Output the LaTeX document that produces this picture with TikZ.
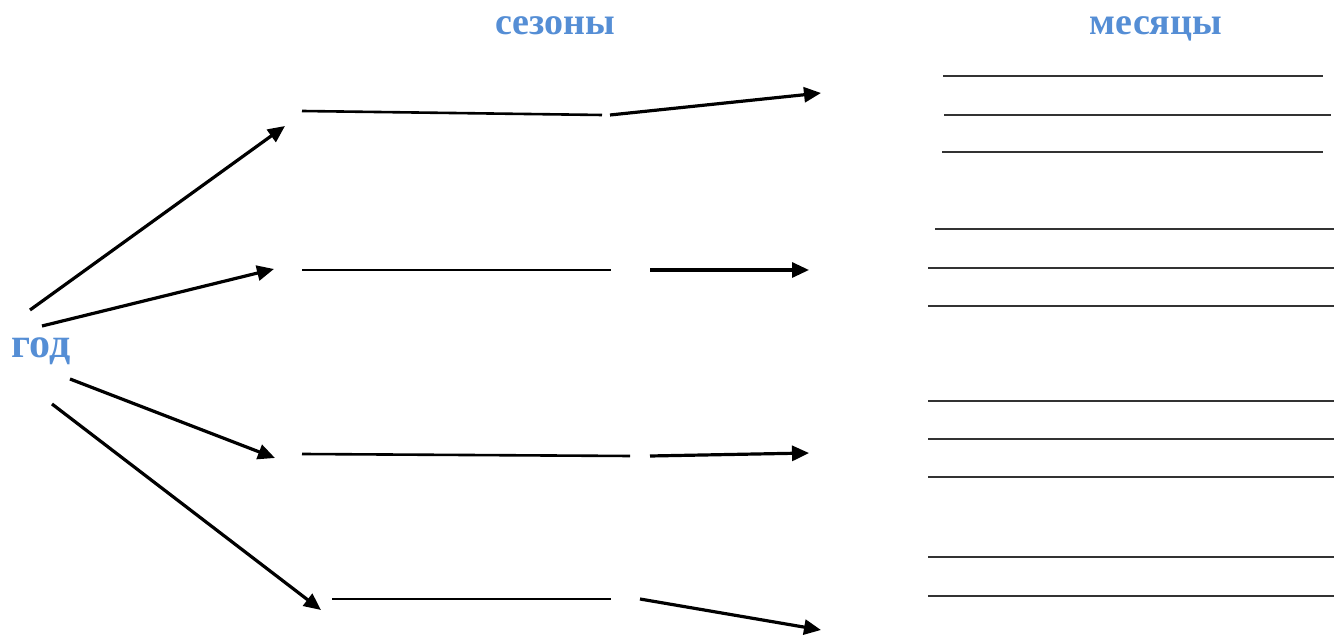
\documentclass[tikz,border=0pt]{standalone}
\usepackage{fontspec}
\setmainfont{Liberation Serif}
\usetikzlibrary{arrows.meta}
\definecolor{titleblue}{RGB}{85,142,213}
\begin{document}
\begin{tikzpicture}[x=0.5pt,y=-0.5pt,
	title/.style={text=titleblue,font=\fontsize{19}{23}\selectfont\bfseries,inner sep=0pt,anchor=base},
	arr/.style={line width=1.6pt,-{Triangle[length=8.5pt,width=7.5pt]}},
	season/.style={line width=1.3pt},
	month/.style={line width=1.3pt,black!80}]
	\useasboundingbox (0,0) rectangle (1334,635);
	%\draw [help lines] (0,0) grid (1334,635);
	\node[title] (sez) at (555,35) {сезоны};
	\node[title] (mes) at (1156,35) {месяцы};
	\node[title,font=\fontsize{21}{25}\selectfont\bfseries] (god) at (41,358) {год};
	% from the year to the seasons
	\coordinate (g1) at (30,310);  \coordinate (s1a) at (285,126);
	\coordinate (g2) at (42,326);  \coordinate (s2a) at (274,269);
	\coordinate (g3) at (70,379);  \coordinate (s3a) at (275,458);
	\coordinate (g4) at (52,404);  \coordinate (s4a) at (321,610);
	\draw[arr] (g1) -- (s1a);
	\draw[arr] (g2) -- (s2a);
	\draw[arr] (g3) -- (s3a);
	\draw[arr] (g4) -- (s4a);
	% lines for the seasons
	\coordinate (l1a) at (302,111); \coordinate (l1b) at (602,115);
	\coordinate (l2a) at (302,270); \coordinate (l2b) at (611,270);
	\coordinate (l3a) at (302,454); \coordinate (l3b) at (630,456);
	\coordinate (l4a) at (332,599); \coordinate (l4b) at (611,599);
	\draw[season] (l1a) -- (l1b);
	\draw[season] (l2a) -- (l2b);
	\draw[season] (l3a) -- (l3b);
	\draw[season] (l4a) -- (l4b);
	% from the seasons to the months
	\coordinate (m1a) at (610,115); \coordinate (m1b) at (821,93);
	\coordinate (m2a) at (650,270); \coordinate (m2b) at (809,270);
	\coordinate (m3a) at (650,456); \coordinate (m3b) at (809,453);
	\coordinate (m4a) at (640,599); \coordinate (m4b) at (821,630);
	\draw[arr] (m1a) -- (m1b);
	\draw[arr] (m2a) -- (m2b);
	\draw[arr] (m3a) -- (m3b);
	\draw[arr] (m4a) -- (m4b);
	% lines for the months
	\draw[month] (943,76) -- (1323,76);
	\draw[month] (944,115) -- (1331,115);
	\draw[month] (942,152) -- (1323,152);
	\draw[month] (935,229) -- (1334,229);
	\foreach \y in {268,306,401,439,477,557,596}
		\draw[month] (928,\y) -- (1334,\y);
\end{tikzpicture}
\end{document}
